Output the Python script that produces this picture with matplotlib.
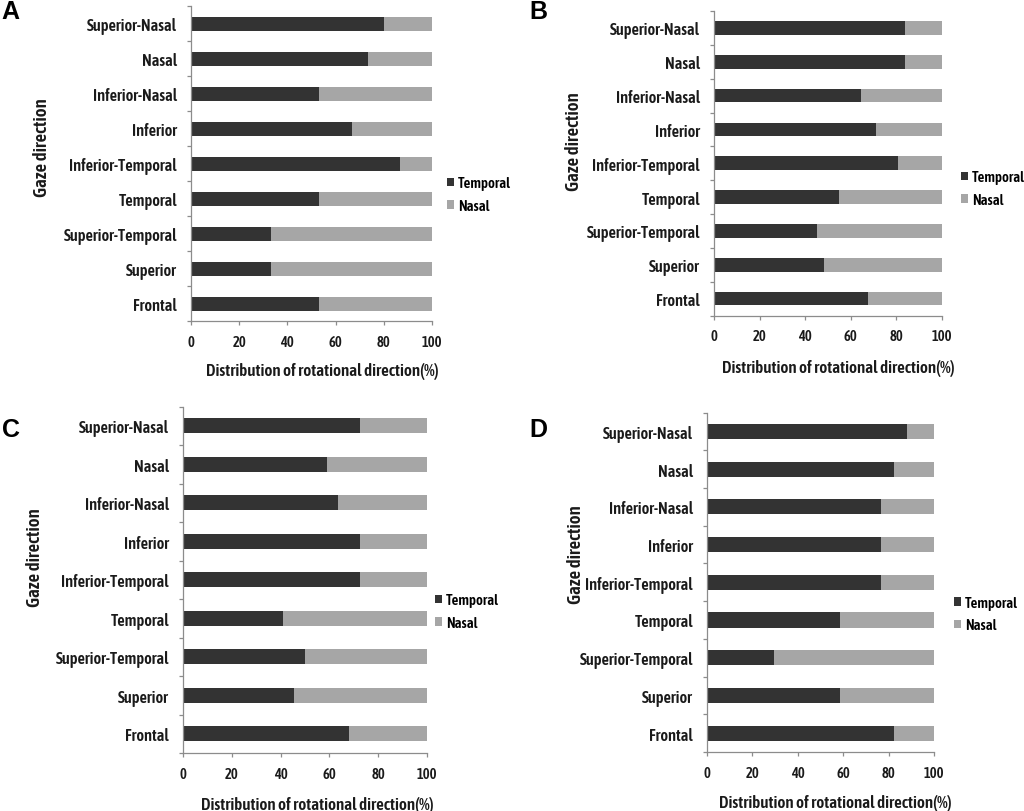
import matplotlib
matplotlib.use('Agg')
import matplotlib.pyplot as plt
from matplotlib.ticker import FixedLocator
from matplotlib import font_manager as fm
from matplotlib.textpath import TextPath

# ---------------- data ----------------
categories = ["Frontal", "Superior", "Superior-Temporal", "Temporal",
              "Inferior-Temporal", "Inferior", "Inferior-Nasal", "Nasal",
              "Superior-Nasal"]
panel_letters = ["A", "B", "C", "D"]
legend_labels = ["Temporal", "Nasal"]
xticks = [0, 20, 40, 60, 80, 100]
x_label = "Distribution of rotational direction(%)"
y_label = "Gaze direction"

temporal_A = [53.3, 33.3, 33.3, 53.3, 86.7, 66.7, 53.3, 73.3, 80.0]
nasal_A    = [46.7, 66.7, 66.7, 46.7, 13.3, 33.3, 46.7, 26.7, 20.0]
temporal_B = [67.7, 48.4, 45.2, 54.8, 80.6, 71.0, 64.5, 83.9, 83.9]
nasal_B    = [32.3, 51.6, 54.8, 45.2, 19.4, 29.0, 35.5, 16.1, 16.1]
temporal_C = [68.2, 45.5, 50.0, 40.9, 72.7, 72.7, 63.6, 59.1, 72.7]
nasal_C    = [31.8, 54.5, 50.0, 59.1, 27.3, 27.3, 36.4, 40.9, 27.3]
temporal_D = [82.4, 58.8, 29.4, 58.8, 76.5, 76.5, 76.5, 82.4, 88.2]
nasal_D    = [17.6, 41.2, 70.6, 41.2, 23.5, 23.5, 23.5, 17.6, 11.8]

temporal_all = [temporal_A, temporal_B, temporal_C, temporal_D]
nasal_all = [nasal_A, nasal_B, nasal_C, nasal_D]

# ---------------- style / layout ----------------
W, H = 1024, 812
DARK = "#333333"
LIGHT = "#a6a6a6"
SPINE = "#8c8c8c"
TXT = "#1a1a1a"
WEIGHT = 600

# choose a narrow font whose proportions resemble the reference lettering
installed = {f.name for f in fm.fontManager.ttflist}
candidates = ['Fira Sans Extra Condensed', 'Barlow Condensed', 'Archivo Narrow',
              'Asap Condensed', 'IBM Plex Sans Condensed', 'Encode Sans Condensed',
              'Fira Sans Condensed', 'Liberation Sans Narrow']
TARGET_RATIO = 90.0 / 11.6   # ink width of "Superior-Nasal" / cap height


def ink(text, fam):
    p = TextPath((0, 0), text, size=100,
                 prop=fm.FontProperties(family=fam, weight=WEIGHT))
    e = p.get_extents()
    return e.width, e.height


best = None
for fam in candidates:
    if fam not in installed:
        continue
    wdt, _ = ink("Superior-Nasal", fam)
    _, cap = ink("H", fam)
    score = abs(wdt / cap - TARGET_RATIO)
    if best is None or score < best[0]:
        best = (score, fam)
MAIN = best[1] if best else 'DejaVu Sans'
FONT = [MAIN, 'DejaVu Sans']
plt.rcParams['font.family'] = FONT
CAP_FRAC = ink("H", MAIN)[1] / 100.0


def size_for_width(text, px):
    w100, _ = ink(text, MAIN)
    return px / (w100 / 100.0 * 100 / 72)


def size_for_cap(px):
    return px / (CAP_FRAC * 100 / 72)


FS_CAT = size_for_width("Superior-Nasal", 90)
FS_TICK = size_for_cap(10.2)
FS_XLAB = size_for_width(x_label, 231)
FS_YLAB = size_for_width(y_label, 97)
FS_LEG = min(size_for_cap(11.4), size_for_width("Temporal", 53))

# axes rect in pixels: left, top, right, bottom
layout = [
    dict(rect=(191, 7, 432, 322), ylab=(-0.581, 0.554), xlab=(0.544, -0.130),
         leg=(447, 195.5), letter=(1, 19)),
    dict(rect=(714, 12, 942, 316.5), ylab=(-0.575, 0.573), xlab=(0.544, -0.143),
         leg=(961, 189.5), letter=(529, 19)),
    dict(rect=(183, 407.5, 427, 754), ylab=(-0.570, 0.567), xlab=(0.549, -0.124),
         leg=(435, 612.5), letter=(2, 437)),
    dict(rect=(707, 413.5, 934, 753), ylab=(-0.537, 0.585), xlab=(0.564, -0.124),
         leg=(954, 615), letter=(529, 437)),
]

fig = plt.figure(figsize=(W / 100, H / 100), dpi=100)
ypos = list(range(len(categories)))

for i, lay in enumerate(layout):
    l, t, r, b = lay['rect']
    ax = fig.add_axes([l / W, 1 - b / H, (r - l) / W, (b - t) / H])
    tb = ax.barh(ypos, temporal_all[i], height=0.4, color=DARK, label=legend_labels[0])
    nb = ax.barh(ypos, nasal_all[i], left=temporal_all[i], height=0.4, color=LIGHT,
                 label=legend_labels[1])
    ax.set_xlim(0, 100)
    ax.set_ylim(-0.5, len(categories) - 0.5)
    ax.set_xticks(xticks)
    ax.set_xticklabels([str(v) for v in xticks])
    ax.set_yticks(ypos)
    ax.set_yticklabels(categories)
    ax.yaxis.set_minor_locator(FixedLocator([k - 0.5 for k in range(len(categories) + 1)]))
    for s in ['top', 'right']:
        ax.spines[s].set_visible(False)
    for s in ['left', 'bottom']:
        ax.spines[s].set_color(SPINE)
        ax.spines[s].set_linewidth(0.9)
    ax.tick_params(axis='y', which='major', length=0, pad=10)
    ax.tick_params(axis='y', which='minor', length=3, color=SPINE, width=0.9)
    ax.tick_params(axis='x', which='major', length=3, color=SPINE, width=0.9, pad=7)
    for lbl in ax.get_yticklabels():
        lbl.set_fontweight(WEIGHT)
        lbl.set_fontsize(FS_CAT)
        lbl.set_color(TXT)
    for lbl in ax.get_xticklabels():
        lbl.set_fontweight(WEIGHT)
        lbl.set_fontsize(FS_TICK)
        lbl.set_color(TXT)
    ax.set_xlabel(x_label, fontsize=FS_XLAB, fontweight=WEIGHT, color=TXT)
    ax.xaxis.set_label_coords(*lay['xlab'])
    ax.set_ylabel(y_label, fontsize=FS_YLAB, fontweight=WEIGHT, color=TXT)
    ax.yaxis.set_label_coords(*lay['ylab'])
    lx, ly = lay['leg']
    ax.legend(handles=[tb, nb], labels=legend_labels, loc='center left',
              bbox_to_anchor=(lx / W, 1 - ly / H), bbox_transform=fig.transFigure,
              frameon=False, borderpad=0, borderaxespad=0, handlelength=0.5,
              handleheight=0.5, handletextpad=0.25, labelspacing=0.6,
              prop=dict(family=FONT, weight=WEIGHT, size=FS_LEG))
    lxp, lyp = lay['letter']
    fig.text(lxp / W, 1 - lyp / H, panel_letters[i], fontsize=18, fontweight='bold',
             family=['Liberation Sans', 'DejaVu Sans'], ha='left', va='baseline')

fig.savefig('out.png', dpi=100)
